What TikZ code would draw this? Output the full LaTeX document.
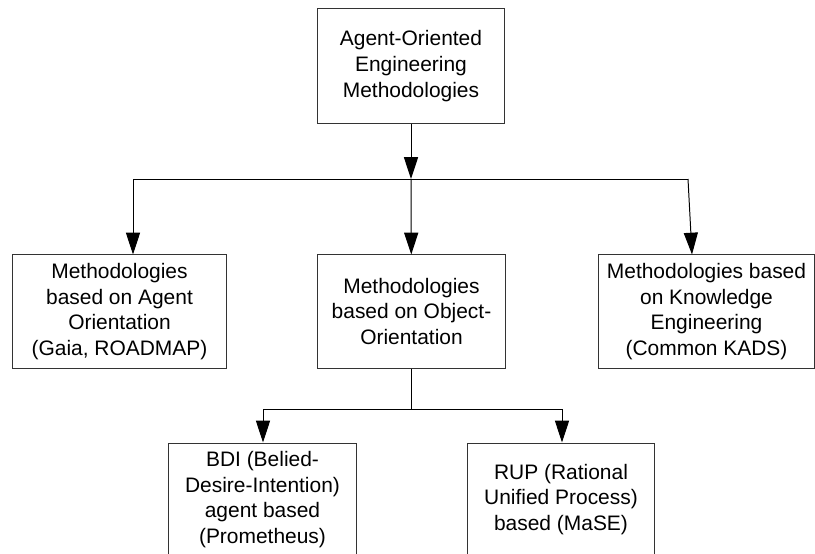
\documentclass[tikz,border=0pt]{standalone}
\usepackage{fontspec}
\setmainfont{Liberation Sans}
\usetikzlibrary{arrows.meta,positioning}
\tikzset{
  box/.style={draw=black!80,line width=0.7pt,align=center,minimum height=2.825cm,inner sep=2pt,
    font=\fontsize{14.9}{18.2}\selectfont},
  arr/.style={-{Triangle[length=15.5pt,width=10pt]}},
}
\begin{document}
\begin{tikzpicture}[x=0.025cm,y=-0.025cm,line width=0.7pt]
\useasboundingbox (0,0) rectangle (815,553);
\clip (0,0) rectangle (815,553);
\node[box,minimum width=4.65cm,minimum height=2.85cm] (aoem) at (411,66)
  {Agent-Oriented\\Engineering\\Methodologies};
\node[box,minimum width=5.325cm] (agent) at (119.5,311.5)
  {Methodologies\\based on Agent\\Orientation\\(Gaia, ROADMAP)};
\node[box,minimum width=4.675cm] (object) at (411.5,311.5)
  {Methodologies\\based on Object-\\Orientation};
\node[box,minimum width=5.375cm] (knowledge) at (706.5,311.5)
  {Methodologies based\\on Knowledge\\Engineering\\(Common KADS)};
\node[box,minimum width=4.675cm] (bdi) at (262.5,499.5)
  {BDI (Belied-\\Desire-Intention)\\agent based\\(Prometheus)};
\node[box,minimum width=4.65cm] (rup) at (561,499.5)
  {RUP (Rational\\Unified Process)\\based (MaSE)};
\coordinate (jtop) at (411,179);
\coordinate (jl) at (133,179);
\coordinate (jr) at (688,179);
\coordinate (jmid) at (411.5,409);
\coordinate (jbl) at (263,409);
\coordinate (jbr) at (562,409);
\draw[arr] (aoem) -- (jtop);
\draw (jl) -- (jr);
\draw[arr] (jl) -- (jl |- agent.north);
\draw[arr] (jtop) -- (object);
\draw[arr] (jr) -- ([xshift=-0.3625cm]knowledge.north);
\draw (object) -- (jmid);
\draw (jbl) -- (jbr);
\draw[arr] (jbl) -- (jbl |- bdi.north);
\draw[arr] (jbr) -- (jbr |- rup.north);
\end{tikzpicture}
\end{document}
